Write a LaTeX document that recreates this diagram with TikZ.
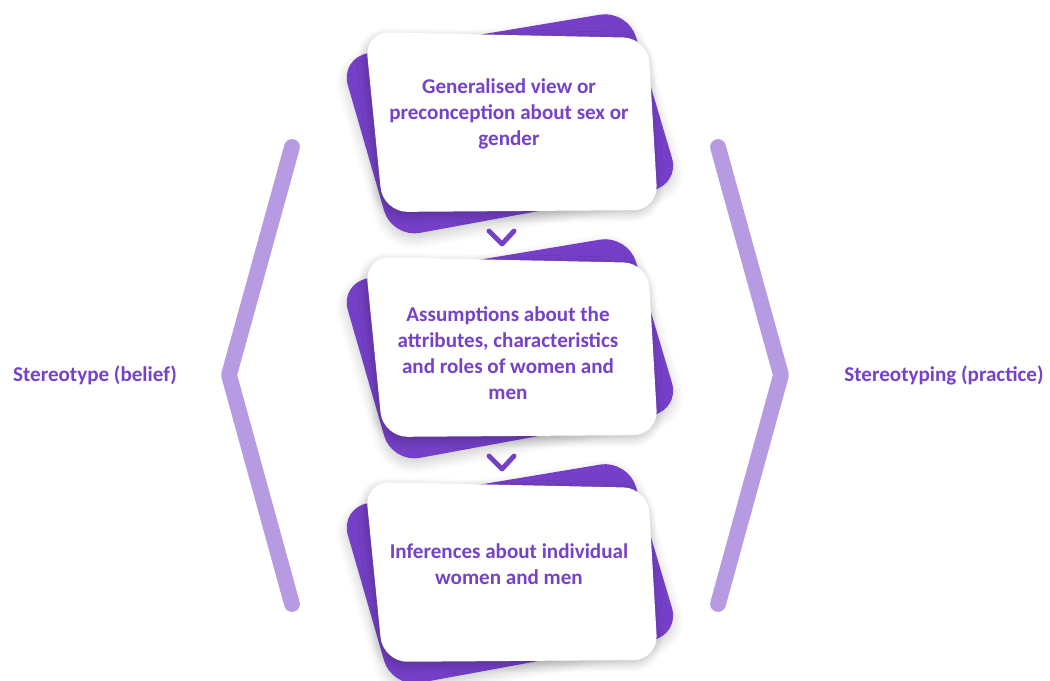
\documentclass[tikz,border=0pt]{standalone}
\usepackage{fontspec}
\setmainfont{Carlito}
\usetikzlibrary{shadows.blur}

\definecolor{cardpurple}{RGB}{117,64,199}
\definecolor{textpurple}{RGB}{118,66,200}
\definecolor{bracketlilac}{RGB}{182,155,226}

\tikzset{
  backcard/.style={fill=cardpurple, rounded corners=16pt,
    blur shadow={shadow blur steps=8, shadow opacity=20, shadow xshift=0pt, shadow yshift=-3pt, shadow blur radius=6pt}},
  frontcard/.style={fill=white, rounded corners=14pt,
    blur shadow={shadow blur steps=8, shadow opacity=25, shadow xshift=-1pt, shadow yshift=-2pt, shadow blur radius=5pt}},
  cardtext/.style={text=textpurple, font=\bfseries\fontsize{12}{14.7}\selectfont, align=center},
  sidelabel/.style={text=textpurple, font=\bfseries\fontsize{12}{14.7}\selectfont},
  chev/.style={draw=cardpurple, line width=2.8pt, line cap=round, line join=round},
  bracket/.style={draw=bracketlilac, line width=9pt, line cap=round, line join=round},
}

\begin{document}
\begin{tikzpicture}[x=0.02cm, y=-0.02cm]
\useasboundingbox (0,0) rectangle (1050,680);

% left and right brackets
\coordinate (lt) at (292,147);
\coordinate (lm) at (229,375);
\coordinate (lb) at (292,604);
\coordinate (rt) at (718,147);
\coordinate (rm) at (781,375);
\coordinate (rb) at (718,604);
\draw[bracket] (lt) -- (lm) -- (lb);
\draw[bracket] (rt) -- (rm) -- (rb);

% side labels
\node[sidelabel] (belief) at (95,375) {Stereotype (belief)};
\node[sidelabel] (practice) at (944,375) {Stereotyping (practice)};

% first card
\path[backcard] (340,58) -- (628,10) -- (680,185) -- (392,238) -- cycle;
\path[frontcard] (365,32) -- (648,38) -- (658,210) -- (383,212) -- cycle;
\node[cardtext] (gen) at (509,114) {Generalised view or\\preconception about sex or\\gender};

% chevron
\coordinate (c1l) at (489,231);
\coordinate (c1m) at (502,244);
\coordinate (c1r) at (514,231);
\draw[chev] (c1l) -- (c1m) -- (c1r);

% second card
\begin{scope}[yshift=-4.5cm]
\path[backcard] (340,58) -- (628,10) -- (680,185) -- (392,238) -- cycle;
\path[frontcard] (365,32) -- (648,38) -- (658,210) -- (383,212) -- cycle;
\node[cardtext] (assum) at (508,128) {Assumptions about the\\attributes, characteristics\\and roles of women and\\men};
\end{scope}

% chevron
\coordinate (c2l) at (489,456);
\coordinate (c2m) at (502,469);
\coordinate (c2r) at (514,456);
\draw[chev] (c2l) -- (c2m) -- (c2r);

% third card
\begin{scope}[yshift=-9cm]
\path[backcard] (340,58) -- (628,10) -- (680,185) -- (392,238) -- cycle;
\path[frontcard] (365,32) -- (648,38) -- (658,210) -- (383,212) -- cycle;
\node[cardtext] (infer) at (509,114) {Inferences about individual\\women and men};
\end{scope}
\end{tikzpicture}
\end{document}
